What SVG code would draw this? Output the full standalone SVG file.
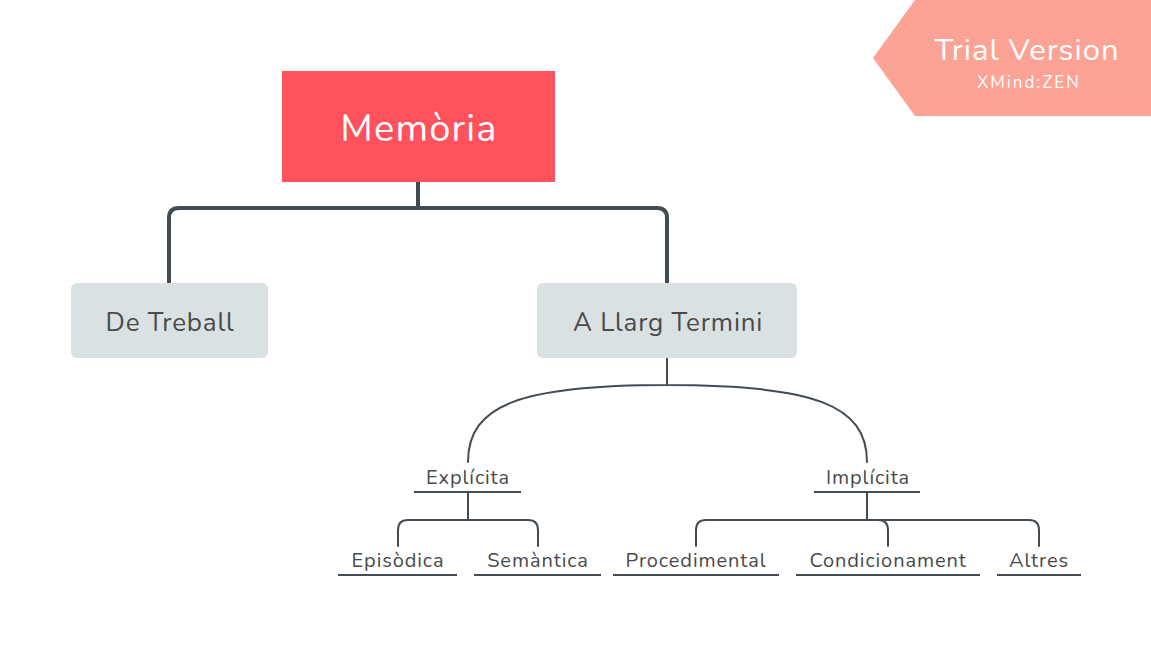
<svg xmlns="http://www.w3.org/2000/svg" width="1151" height="647" viewBox="0 0 1151 647">
<style>
.t{font-family:"Nunito","Open Sans","Noto Sans",sans-serif;text-anchor:middle}
.sub{font-size:20px;fill:#4a4a4a;letter-spacing:0.9px}
.main{font-size:26px;fill:#4a4a4a;letter-spacing:0.8px}
.c{fill:none;stroke:#434B54;stroke-linecap:round}
.thick{stroke-width:4}
.thin{stroke-width:2}
.ul{stroke:#434B54;stroke-width:2}
</style>
<rect width="1151" height="647" fill="#ffffff"/>
<g id="connectors">
<path class="c thick" d="M418,182 V208 M179,208 H657 M169,283 V218 Q169,208 179,208 M667,283 V218 Q667,208 657,208"/>
<path class="c thin" d="M667,358 V385 M667,385 C520,385 468,405 468,462 M667,385 C814,385 867,405 867,462"/>
<path class="c thin" d="M468,492 V520 M408,520 H528 M398,546 V530 Q398,520 408,520 M538,546 V530 Q538,520 528,520"/>
<path class="c thin" d="M867,492 V520 M706,520 H1029 M696,546 V530 Q696,520 706,520 M1039,546 V530 Q1039,520 1029,520 M888,546 V530 Q888,520 878,520"/>
</g>
<g id="banner">
<polygon points="915,0 1151,0 1151,116 915,116 873,58" fill="#FCA395"/>
<text class="t" x="1027" y="60" font-size="31" fill="#ffffff" letter-spacing="1">Trial Version</text>
<text class="t" x="1029" y="88" font-size="17" fill="#ffffff" letter-spacing="2">XMind:ZEN</text>
</g>
<g id="memoria">
<rect x="282" y="71" width="273" height="111" fill="#FF525C"/>
<text class="t" x="419" y="141" font-size="38" fill="#ffffff" letter-spacing="1.2">Memòria</text>
</g>
<g id="de-treball">
<rect x="71" y="283" width="197" height="75" rx="6" fill="#DAE1E3"/>
<text class="t main" x="170" y="331">De Treball</text>
</g>
<g id="a-llarg-termini">
<rect x="537" y="283" width="260" height="75" rx="6" fill="#DAE1E3"/>
<text class="t main" x="668" y="331">A Llarg Termini</text>
</g>
<g id="explicita">
<text class="t sub" x="468" y="484">Explícita</text>
<line class="ul" x1="414" y1="492" x2="521" y2="492"/>
</g>
<g id="implicita">
<text class="t sub" x="868" y="484">Implícita</text>
<line class="ul" x1="814" y1="492" x2="920" y2="492"/>
</g>
<g id="episodica">
<text class="t sub" x="398" y="567">Episòdica</text>
<line class="ul" x1="338" y1="575" x2="457" y2="575"/>
</g>
<g id="semantica">
<text class="t sub" x="538" y="567">Semàntica</text>
<line class="ul" x1="474" y1="575" x2="601" y2="575"/>
</g>
<g id="procedimental">
<text class="t sub" x="696" y="567">Procedimental</text>
<line class="ul" x1="613" y1="575" x2="779" y2="575"/>
</g>
<g id="condicionament">
<text class="t sub" x="888" y="567">Condicionament</text>
<line class="ul" x1="796" y1="575" x2="980" y2="575"/>
</g>
<g id="altres">
<text class="t sub" x="1039" y="567">Altres</text>
<line class="ul" x1="997" y1="575" x2="1081" y2="575"/>
</g>
</svg>
